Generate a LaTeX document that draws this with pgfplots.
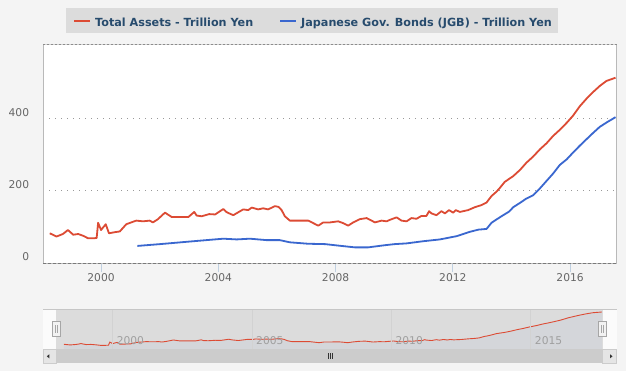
\documentclass[border=0pt]{standalone}
\usepackage{pgfplots}
\pgfplotsset{compat=1.18}
\usepackage{pgfplotstable}
\usepackage{fontspec}
\setmainfont{DejaVu Sans}
\definecolor{bgc}{HTML}{F4F4F4}
\definecolor{redc}{HTML}{DC4B34}
\definecolor{bluec}{HTML}{3A67CF}
\definecolor{legbg}{HTML}{DCDCDC}
\definecolor{legtxt}{HTML}{274B6D}
\definecolor{lblc}{HTML}{666666}
\definecolor{tickc}{HTML}{C0D0E0}
\definecolor{navbg}{HTML}{DCDCDC}
\definecolor{navfill}{HTML}{D4D6DA}

\pgfplotstableread{
x y
1998.25 83
1998.48 74
1998.70 81
1998.87 92
1999.05 79
1999.22 81
1999.39 76
1999.56 69
1999.73 69
1999.85 70
1999.90 112
2000.00 92
2000.16 108
2000.27 83
2000.47 86
2000.64 88
2000.86 108
2001.03 113
2001.20 118
2001.43 116
2001.66 118
2001.77 113
2001.94 122
2002.18 140
2002.41 128
2002.64 128
2002.98 128
2003.18 142
2003.26 132
2003.43 130
2003.69 136
2003.89 135
2004.17 150
2004.29 141
2004.51 133
2004.68 141
2004.85 149
2005.02 147
2005.14 154
2005.36 149
2005.53 152
2005.70 149
2005.93 158
2006.05 156
2006.16 147
2006.27 130
2006.44 118
2006.67 118
2006.84 118
2007.07 118
2007.24 111
2007.41 104
2007.58 113
2007.81 113
2008.09 116
2008.26 111
2008.43 104
2008.60 113
2008.83 122
2009.06 125
2009.23 118
2009.34 113
2009.57 118
2009.74 116
2009.85 120
2010.08 127
2010.25 118
2010.42 116
2010.59 125
2010.76 123
2010.93 131
2011.10 131
2011.19 144
2011.27 138
2011.44 133
2011.61 144
2011.73 138
2011.87 147
2012.01 140
2012.10 147
2012.24 142
2012.52 147
2012.75 155
2012.98 161
2013.15 168
2013.32 186
2013.49 198
2013.60 208
2013.77 225
2014.06 241
2014.29 258
2014.51 278
2014.74 295
2014.97 315
2015.20 332
2015.42 352
2015.65 369
2015.88 388
2016.10 408
2016.33 434
2016.56 455
2016.78 473
2017.01 490
2017.24 504
2017.55 513
}\assets

\pgfplotstableread{
x y
2001.24 48
2002.01 53
2003.15 61
2004.17 68
2004.63 66
2005.08 68
2005.65 64
2006.10 64
2006.44 58
2007.07 54
2007.64 53
2008.20 48
2008.66 44
2009.11 44
2009.68 50
2010.02 53
2010.42 55
2010.99 61
2011.56 66
2012.13 75
2012.58 87
2012.87 93
2013.15 95
2013.32 112
2013.60 127
2013.92 143
2014.06 155
2014.29 167
2014.51 179
2014.74 188
2014.97 207
2015.20 228
2015.42 248
2015.65 272
2015.88 287
2016.10 306
2016.33 325
2016.56 343
2016.78 360
2017.01 377
2017.24 389
2017.55 404
}\jgb

\begin{document}
\begin{tikzpicture}[x=1pt,y=1pt]
\useasboundingbox (0,0) rectangle (626,371);
\fill[bgc] (0,0) rectangle (626,371);

% legend box
\fill[legbg] (66,371-32.7) rectangle (558,371-8);
\draw[redc, line width=2pt] (74,371-21.5) -- (90,371-21.5);
\node[anchor=base west, inner sep=0pt, text=legtxt, font=\fontsize{11.2}{13}\selectfont\bfseries] at (95,371-26.3) {Total Assets - Trillion Yen};
\draw[bluec, line width=2pt] (280,371-21.5) -- (296,371-21.5);
\node[anchor=base west, inner sep=0pt, text=legtxt, font=\fontsize{11.2}{13}\selectfont\bfseries] at (301,371-26.3) {Japanese Gov. Bonds (JGB) - Trillion Yen};

\begin{axis}[
  at={(43.3pt,107.7pt)}, anchor=south west,
  scale only axis, width=573.4pt, height=218.5pt,
  xmin=1998.03, xmax=2017.59, ymin=0, ymax=604,
  axis background/.style={fill=white},
  axis line style={draw=none},
  xtick={2000,2004,2008,2012,2016},
  xticklabels={2000,2004,2008,2012,2016},
  ytick={0,200,400},
  yticklabels={0,200,400},
  xtick pos=bottom, ytick pos=left,
  tick align=outside,
  major tick length=9pt,
  xtick style={color=tickc, line width=1pt},
  ytick style={draw=none},
  ymajorgrids,
  major grid style={color=gray!80, line width=1.1pt, dash pattern=on 1.1pt off 4.9pt},
  xticklabel style={anchor=north, inner sep=0pt, text=lblc, yshift=-1pt, font=\fontsize{10.7}{12}\selectfont},
  yticklabel style={anchor=east, inner sep=0pt, text=lblc, xshift=-5pt, yshift=6.3pt, font=\fontsize{10.7}{12}\selectfont},
  /pgf/number format/assume math mode=true,
  clip=true,
]
\addplot[redc, line width=1.8pt, line join=round] table[x=x,y=y] {\assets};
\addplot[bluec, line width=1.8pt, line join=round] table[x=x,y=y] {\jgb};
\end{axis}

% frame of main plot
\draw[color=gray!55, line width=1.5pt] (43.3,371-44.8) -- (43.3,371-263.3);
\draw[color=gray!55, line width=1.5pt] (616.7,371-44.8) -- (616.7,371-263.3);
\draw[color=gray!35, line width=1.4pt] (43.3,371-44.8) -- (616.7,371-44.8);
\draw[color=gray!90, line width=1.4pt, dash pattern=on 1.2pt off 2.8pt] (43.3,371-44.8) -- (616.7,371-44.8);
\draw[color=gray!55, line width=1.5pt] (43.3,371-263.3) -- (616.7,371-263.3);
\draw[color=gray!95!black, line width=1.5pt, dash pattern=on 3pt off 2pt] (43.3,371-263.3) -- (616.7,371-263.3);

% navigator background
\fill[white!60!bgc] (43,371-349.3) rectangle (616.7,371-309.3);
\fill[navbg] (56.3,371-349.3) rectangle (602.7,371-309.3);

\begin{axis}[
  at={(56.3pt,21.7pt)}, anchor=south west,
  scale only axis, width=546.4pt, height=40pt,
  xmin=1997.98, xmax=2017.58, ymin=16, ymax=549,
  axis on top=true,
  axis line style={draw=none},
  xtick={2000,2005,2010,2015},
  xticklabels={2000,2005,2010,2015},
  ytick=\empty,
  xtick style={draw=none},
  xmajorgrids,
  major grid style={color=gray!35, line width=0.8pt},
  xticklabel style={anchor=west, inner sep=0pt, xshift=4pt, yshift=8.3pt, text=gray!75, font=\fontsize{10.7}{12}\selectfont},
  /pgf/number format/assume math mode=true,
  clip=true,
]
\addplot[fill=navfill, draw=none] table[x=x,y=y] {\assets} \closedcycle;
\addplot[redc, line width=0.9pt] table[x=x,y=y] {\assets};
\end{axis}

% navigator top line
\draw[color=gray!45, line width=1pt] (43,371-309.3) -- (616.7,371-309.3);

% scrollbar
\fill[gray!40] (43,371-363.3) rectangle (616.7,371-349.3);
\fill[gray!20, draw=gray!40, line width=0.6pt] (43,371-363.3) rectangle (56.3,371-349.3);
\fill[gray!20, draw=gray!40, line width=0.6pt] (602.7,371-363.3) rectangle (616.7,371-349.3);
\fill[black!80] (46.8,371-356.3) -- (49.3,371-354.3) -- (49.3,371-358.3) -- cycle;
\fill[black!80] (612.5,371-356.3) -- (610,371-354.3) -- (610,371-358.3) -- cycle;
\draw[black!80, line width=0.6pt] (327.8,371-353.5) -- (327.8,371-359.5);
\draw[black!80, line width=0.6pt] (329.8,371-353.5) -- (329.8,371-359.5);
\draw[black!80, line width=0.6pt] (331.8,371-353.5) -- (331.8,371-359.5);

% handles
\foreach \hx in {56.3,602.7} {
  \fill[gray!10, draw=gray!70, line width=0.7pt] (\hx-4,371-336.7) rectangle (\hx+4,371-321);
  \draw[gray!70, line width=0.6pt] (\hx-1,371-333) -- (\hx-1,371-325);
  \draw[gray!70, line width=0.6pt] (\hx+1,371-333) -- (\hx+1,371-325);
}
\end{tikzpicture}
\end{document}
